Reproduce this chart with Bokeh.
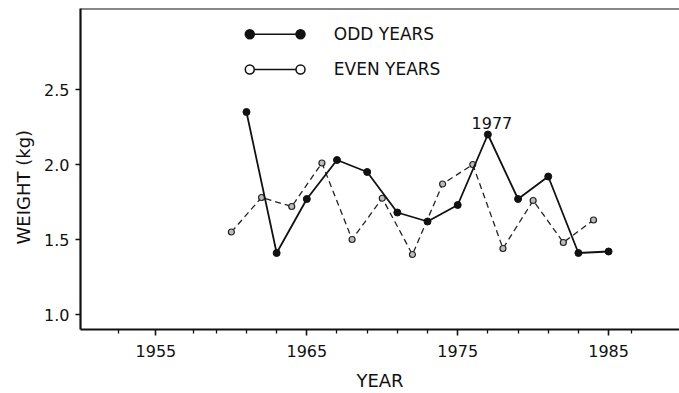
from bokeh.plotting import figure
from bokeh.models import FixedTicker, Label, Span, Range1d, Title
from bokeh.embed import file_html
from bokeh.resources import INLINE

# ---- data ----
odd_years = [1961, 1963, 1965, 1967, 1969, 1971, 1973, 1975, 1977, 1979, 1981, 1983, 1985]
odd_weight = [2.35, 1.41, 1.77, 2.03, 1.95, 1.68, 1.62, 1.73, 2.20, 1.77, 1.92, 1.41, 1.42]
even_years = [1960, 1962, 1964, 1966, 1968, 1970, 1972, 1974, 1976, 1978, 1980, 1982, 1984]
even_weight = [1.55, 1.78, 1.72, 2.01, 1.50, 1.775, 1.40, 1.87, 2.00, 1.44, 1.76, 1.48, 1.63]

x_ticks = [1955, 1965, 1975, 1985]
x_tick_labels = ["1955", "1965", "1975", "1985"]
x_minor = [1952.5, 1957.5, 1959, 1961, 1963, 1967, 1969, 1971, 1973, 1977, 1979, 1981, 1983, 1986.5]
y_ticks = [1.0, 1.5, 2.0, 2.5]
y_tick_labels = ["1.0", "1.5", "2.0", "2.5"]
series_labels = ["ODD YEARS", "EVEN YEARS"]
peak_label = "1977"
x_title = "YEAR"
y_title = "WEIGHT (kg)"

FONT = "DejaVu Sans"
INK = "#111111"
X0, X1 = 1950, 1989.7
Y0, Y1 = 0.9, 3.04

p = figure(width=679, height=393, output_backend="svg", toolbar_location=None,
           x_range=Range1d(X0, X1), y_range=Range1d(Y0, Y1),
           min_border_left=80, min_border_right=0, min_border_top=8, min_border_bottom=64)
p.outline_line_color = None
p.xgrid.visible = False
p.ygrid.visible = False
p.background_fill_color = "white"

for ax in (p.xaxis[0], p.yaxis[0]):
    ax.axis_line_width = 2.2
    ax.axis_line_color = INK
    ax.major_tick_line_color = INK
    ax.major_tick_line_width = 1.6
    ax.minor_tick_line_color = INK
    ax.minor_tick_line_width = 1.3
    ax.major_tick_in = 0
    ax.minor_tick_in = 0
    ax.major_label_text_font = FONT
    ax.major_label_text_font_size = "16px"
    ax.major_label_text_color = INK
    ax.axis_label_text_font = FONT
    ax.axis_label_text_font_style = "normal"
    ax.axis_label_text_color = INK
    ax.axis_label_text_font_size = "18px"

p.xaxis.ticker = FixedTicker(ticks=x_ticks, minor_ticks=x_minor)
p.xaxis.major_label_overrides = {t: l for t, l in zip(x_ticks, x_tick_labels)}
p.xaxis.major_tick_out = 6
p.xaxis.minor_tick_out = 4
p.xaxis.major_label_standoff = 9
p.xaxis.axis_label = x_title
p.xaxis.axis_label_standoff = 10

p.yaxis.ticker = FixedTicker(ticks=y_ticks, minor_ticks=[])
p.yaxis.major_label_overrides = {t: l for t, l in zip(y_ticks, y_tick_labels)}
p.yaxis.major_tick_out = 5
p.yaxis.minor_tick_out = 0
p.yaxis.major_label_standoff = 6

# y title as a left-side Title so it can sit a little below the frame centre
p.add_layout(Title(text=y_title, align="left", offset=85, standoff=16,
                   text_font=FONT, text_font_size="18px", text_font_style="normal",
                   text_color=INK), "left")

# top frame line
p.add_layout(Span(location=Y1, dimension="width", line_color=INK, line_width=2.2))

# series
p.line(even_years, even_weight, line_color="#222222", line_width=1.3, line_dash="6 4")
p.scatter(even_years, even_weight, size=6, marker="circle", fill_color="#bbbbbb",
          line_color="#222222", line_width=1.2)
p.line(odd_years, odd_weight, line_color=INK, line_width=1.8)
p.scatter(odd_years, odd_weight, size=7, marker="circle", fill_color=INK, line_color=INK)

# peak annotation
i_peak = odd_years.index(int(peak_label))
p.add_layout(Label(x=odd_years[i_peak], y=odd_weight[i_peak], text=peak_label,
                   text_align="center", text_baseline="middle", x_offset=4, y_offset=12,
                   text_font=FONT, text_font_size="16px", text_color=INK))

# legend drawn inside the frame (positions as fractions of the axis ranges)
def fx(f):
    return X0 + f * (X1 - X0)

def fy(f):
    return Y0 + f * (Y1 - Y0)

rows = [fy(0.92), fy(0.81)]
lx = [fx(0.2826), fx(0.3673)]
tx = fx(0.4229)
fills = [INK, "white"]
for row_y, fill, lab in zip(rows, fills, series_labels):
    p.line(lx, [row_y, row_y], line_color=INK, line_width=1.5)
    p.scatter(lx, [row_y, row_y], size=9, marker="circle", fill_color=fill,
              line_color=INK, line_width=1.5)
    p.add_layout(Label(x=tx, y=row_y, text=lab, text_align="left", text_baseline="middle",
                       text_font=FONT, text_font_size="17px", text_color=INK))

open("out.html", "w").write(file_html(p, INLINE))
